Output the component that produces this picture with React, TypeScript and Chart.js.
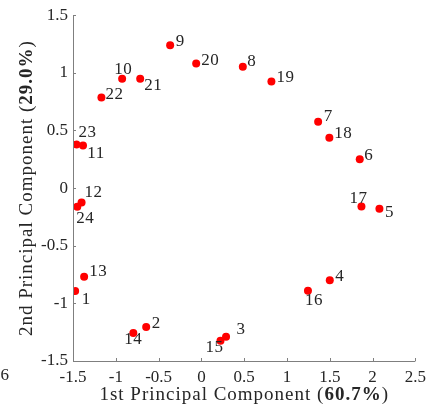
import React, { useEffect, useRef } from "react";
import { Chart, registerables } from "chart.js";

Chart.register(...registerables);

const pointIds = ["1","2","3","4","5","6","7","8","9","10","11","12","13","14","15","16","17","18","19","20","21","22","23","24"];
const pc1 = [-1.475, -0.645, 0.288, 1.50, 2.08, 1.85, 1.364, 0.484, -0.365, -0.926, -1.383, -1.40, -1.37, -0.795, 0.223, 1.245, 1.87, 1.495, 0.818, -0.061, -0.715, -1.168, -1.46, -1.45];
const pc2 = [-0.893, -1.205, -1.29, -0.80, -0.18, 0.25, 0.575, 1.052, 1.24, 0.948, 0.37, -0.124, -0.77, -1.257, -1.324, -0.89, -0.16, 0.436, 0.925, 1.081, 0.948, 0.787, 0.379, -0.162];
const xTicks = [-1.5, -1, -0.5, 0, 0.5, 1, 1.5, 2, 2.5];
const yTicks = [-1.5, -1, -0.5, 0, 0.5, 1, 1.5];
const xTitle = ["1st Principal Component (", "60.7%", ")"];
const yTitle = ["2nd Principal Component (", "29.0%", ")"];
const strayLabel = "6";

// label placement (style): offset of label centre from the point, px
const labelOffsets: [number, number][] = [
  [11, 8], [10, -3], [15, -7], [10, -4], [10, 4], [9, -4], [10, -5], [9, -5], [10, -4], [1, -9],
  [13, 8], [12, -10], [14, -5], [0, 7], [-6, 7], [6, 10], [-3, -8], [14, -4], [14, -4], [14, -3],
  [13, 7], [13, -3], [11, -12], [8, 12],
];

const FONT = "'Liberation Serif', 'DejaVu Serif', serif";
const TEXT = "#262626";

function drawMixed(ctx: any, parts: string[], cx: number, cy: number, size: number) {
  const fonts = [`${size}px ${FONT}`, `bold ${size}px ${FONT}`, `${size}px ${FONT}`];
  ctx.letterSpacing = "1px";
  const widths = parts.map((p, i) => { ctx.font = fonts[i]; return ctx.measureText(p).width; });
  const total = widths.reduce((a: number, b: number) => a + b, 0);
  let x = cx - total / 2;
  ctx.textAlign = "left";
  ctx.textBaseline = "middle";
  parts.forEach((p, i) => { ctx.font = fonts[i]; ctx.fillText(p, x, cy); x += widths[i]; });
  ctx.letterSpacing = "0px";
}

const overlay = {
  id: "overlay",
  afterDraw(chart: any) {
    const ctx: any = chart.ctx;
    const area = chart.chartArea;
    const xs = chart.scales.x, ys = chart.scales.y;
    ctx.save();
    ctx.strokeStyle = "#7f7f7f";
    ctx.lineWidth = 1;
    ctx.beginPath();
    ctx.moveTo(Math.round(area.left) + 0.5, area.top);
    ctx.lineTo(Math.round(area.left) + 0.5, Math.round(area.bottom) + 0.5);
    ctx.lineTo(area.right, Math.round(area.bottom) + 0.5);
    ctx.stroke();
    ctx.beginPath();
    xTicks.forEach(v => {
      const px = Math.round(xs.getPixelForValue(v)) + 0.5;
      ctx.moveTo(px, area.bottom); ctx.lineTo(px, area.bottom - 3);
    });
    yTicks.forEach(v => {
      const py = Math.round(ys.getPixelForValue(v)) + 0.5;
      ctx.moveTo(area.left, py); ctx.lineTo(area.left + 3, py);
    });
    ctx.stroke();
    ctx.fillStyle = TEXT;
    ctx.font = `17px ${FONT}`;
    ctx.letterSpacing = "0.5px";
    ctx.textAlign = "center";
    ctx.textBaseline = "middle";
    const meta = chart.getDatasetMeta(0);
    meta.data.forEach((el: any, i: number) => {
      const [dx, dy] = labelOffsets[i];
      ctx.fillText(pointIds[i], el.x + dx, el.y + dy);
    });
    ctx.fillText(strayLabel, area.left - 68, area.bottom + 15);
    ctx.letterSpacing = "0px";
    drawMixed(ctx, xTitle, (area.left + area.right) / 2, area.bottom + 34, 19);
    ctx.translate(27, (area.top + area.bottom) / 2);
    ctx.rotate(-Math.PI / 2);
    drawMixed(ctx, yTitle, 0, 0, 19);
    ctx.restore();
  },
};

export default function App() {
  const ref = useRef<HTMLCanvasElement>(null);
  useEffect(() => {
    document.body.style.margin = "0";
    const chart = new Chart(ref.current!, {
      type: "scatter",
      data: {
        datasets: [{
          data: pc1.map((x, i) => ({ x, y: pc2[i] })),
          backgroundColor: "#ff0000",
          borderWidth: 0,
          pointRadius: 4,
        }],
      },
      options: {
        animation: false,
        responsive: false,
        layout: { padding: { top: 15, right: 12, left: 0, bottom: 0 } },
        plugins: { legend: { display: false }, tooltip: { enabled: false } },
        scales: {
          x: {
            type: "linear", min: -1.5, max: 2.5,
            afterBuildTicks: (s: any) => { s.ticks = xTicks.map(v => ({ value: v })); },
            afterFit: (s: any) => { s.height = 47; },
            grid: { display: false, drawTicks: false },
            border: { display: false },
            ticks: { color: TEXT, font: { family: FONT, size: 17 }, padding: 6, maxRotation: 0, callback: (v: any) => String(v) },
          },
          y: {
            type: "linear", min: -1.5, max: 1.5,
            afterBuildTicks: (s: any) => { s.ticks = yTicks.map(v => ({ value: v })); },
            afterFit: (s: any) => { s.width = 73; },
            grid: { display: false, drawTicks: false },
            border: { display: false },
            ticks: { color: TEXT, font: { family: FONT, size: 17 }, padding: 5, callback: (v: any) => String(v) },
          },
        },
      },
      plugins: [overlay],
    });
    return () => chart.destroy();
  }, []);
  return <canvas ref={ref} width={432} height={408} style={{ display: "block" }} />;
}
